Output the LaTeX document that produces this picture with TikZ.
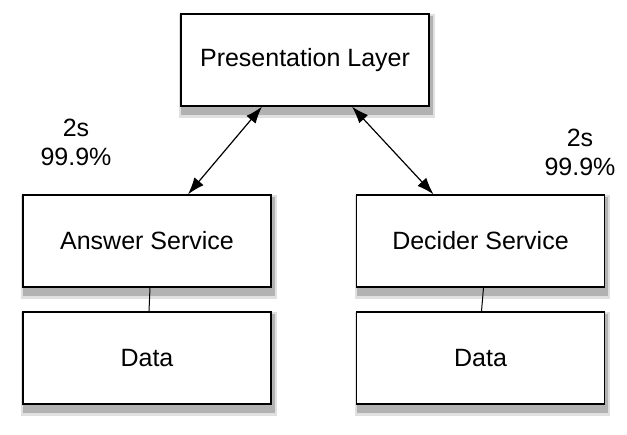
\documentclass[tikz,border=0pt]{standalone}
\usepackage{fontspec}
\setmainfont{Liberation Sans}
\usepackage{tikz}
\usetikzlibrary{arrows.meta, backgrounds}
\tikzset{layer/.style={draw, line width=1.3pt, fill=white, minimum width=248pt, minimum height=92pt,
    font=\fontsize{25}{30}\selectfont}}
\tikzset{call/.style={{Latex[length=17pt,width=12pt]}-{Latex[length=17pt,width=12pt]}, line width=1.2pt}}
\tikzset{sla/.style={align=center, font=\fontsize{25}{29}\selectfont}}

\begin{document}
\begin{tikzpicture}[x=1pt, y=-1pt]
            \useasboundingbox (0, 0) rectangle (627, 435);
            \node[layer] (pres) at (305, 60) {Presentation Layer};
            \node[layer] (answer) at (147, 241) {Answer Service};
            \node[layer] (decider) at (480.5, 241) {Decider Service};
            \node[layer] (adata) at (147, 358) {Data};
            \node[layer] (ddata) at (480.5, 358) {Data};
            % soft shadows under the boxes
            \begin{scope}[on background layer]
                \foreach \blk in {pres, answer, decider, adata, ddata} {
                    \fill[black!12] ([xshift=-1pt, yshift=-11pt]\blk.south west) rectangle ([xshift=5pt, yshift=-1pt]\blk.north east);
                    \fill[black!30] ([xshift=1pt, yshift=-8pt]\blk.south west) rectangle ([xshift=3pt, yshift=-3pt]\blk.north east);
                }
            \end{scope}
            % calls from the front end
            \draw[call] ([xshift=-43pt]pres.south) -- ([xshift=41pt]answer.north);
            \draw[call] ([xshift=47pt]pres.south) -- ([xshift=-47pt]decider.north);
            \draw[line width=1pt] ([xshift=3pt]answer.south) -- ([xshift=2pt]adata.north);
            \draw[line width=1pt] ([xshift=3pt]decider.south) -- ([xshift=1pt]ddata.north);
            \node[sla] (asla) at (76, 142) {2s\\99.9\%};
            \node[sla] (dsla) at (580, 152) {2s\\99.9\%};
        \end{tikzpicture}
\end{document}
